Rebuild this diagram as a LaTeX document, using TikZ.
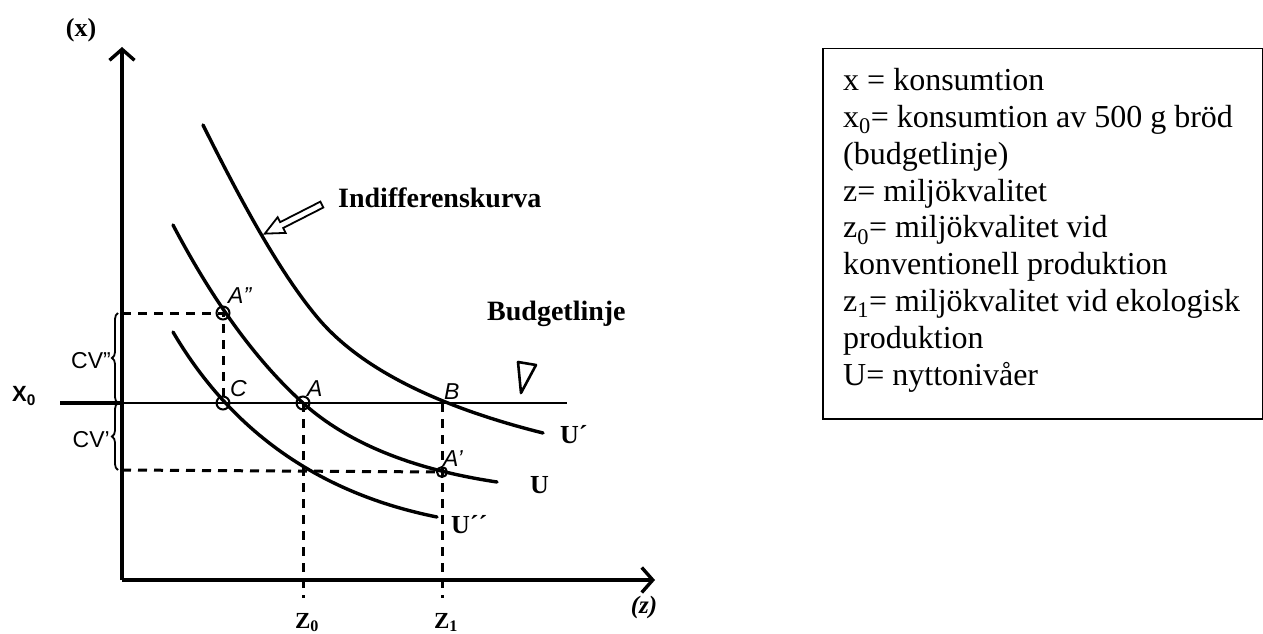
\documentclass[tikz,border=0pt]{standalone}
\usepackage{fontspec}
\setmainfont{Liberation Serif}
\newfontfamily\labelsans{Liberation Sans}
\usetikzlibrary{arrows.meta,decorations.pathreplacing,shapes.arrows}

\tikzset{
  axis/.style={line width=3.4pt, -{Straight Barb[length=11pt,width=25pt]}},
  icurve/.style={line width=3.4pt, line cap=round},
  helper/.style={line width=3pt, dash pattern=on 9pt off 7pt},
  punkt/.style={circle, draw, line width=2pt, minimum size=13pt, inner sep=0pt},
  ptlabel/.style={font=\labelsans\itshape\fontsize{23}{26}\selectfont, inner sep=0pt, anchor=base west},
  cvlabel/.style={font=\labelsans\fontsize{23}{26}\selectfont, inner sep=0pt, anchor=base east},
  ulabel/.style={font=\bfseries\fontsize{26}{30}\selectfont, inner sep=0pt, anchor=base west},
  titel/.style={font=\bfseries\fontsize{28}{32}\selectfont, inner sep=0pt, anchor=base west},
  cvbrace/.style={decorate, decoration={brace, amplitude=6pt}, line width=1.8pt},
}

\begin{document}
\begin{tikzpicture}[x=1pt,y=-1pt]
\useasboundingbox (0,0) rectangle (1263,634);

% axes
\coordinate (O) at (122,580);
\coordinate (ytop) at (122,47);
\coordinate (xend) at (655,580);
\draw[axis] (O) -- (ytop);
\draw[axis] (O) -- (xend);
\node[font=\bfseries\fontsize{26}{30}\selectfont] (xaxlabel) at (81,30) {(x)};
\node[font=\bfseries\itshape\fontsize{25}{30}\selectfont] (zaxlabel) at (644,607) {(z)};

% points
\coordinate (Ann) at (223,313);
\coordinate (C) at (223,403);
\coordinate (A) at (303,403);
\coordinate (B) at (442,403);
\coordinate (Ap) at (442,472);

% budget line
\coordinate (xleft) at (60,403);
\coordinate (xaxis) at (122,403);
\coordinate (xright) at (567,403);
\draw[line width=3.4pt] (xleft) -- (xaxis);
\draw[line width=2.3pt] (xaxis) -- (xright);
\node[font=\labelsans\bfseries\fontsize{22}{26}\selectfont] (xnoll) at (24,396) {X\textsubscript{0}};

% indifference curves
\draw[icurve] (203,125) .. controls (241,201) and (279,271.4) .. (317,317)
  .. controls (358.7,367.1) and (434.1,405.7) .. (543,433);
\draw[icurve] (173,225) .. controls (213.7,302.3) and (257,361.6) .. (A)
  .. controls (347.3,442.9) and (412,469.3) .. (497,482);
\draw[icurve] (173,332) .. controls (231.7,431.9) and (319.7,493.5) .. (437,517);

% dashed helper lines
\coordinate (cvtop) at (122,313);
\coordinate (cvbot) at (122,470);
\coordinate (zzero) at (303,598);
\coordinate (zone) at (442,598);
\draw[helper] (cvtop) -- (Ann) -- (C);
\draw[helper] (cvbot) -- (Ap);
\draw[helper] (A) -- (zzero);
\draw[helper] (B) -- (zone);

\node[punkt] (pAnn) at (Ann) {};
\node[punkt] (pC) at (C) {};
\node[punkt] (pA) at (A) {};
\node[punkt, minimum size=10pt] (pAp) at (Ap) {};

\node[ptlabel] (lAnn) at (228,303) {A”};
\node[ptlabel] (lC) at (230,396) {C};
\node[ptlabel] (lA) at (307,396) {A};
\node[ptlabel] (lB) at (444,399) {B};
\node[ptlabel] (lAp) at (443,466) {A’};

% braces
\coordinate (brtop) at (118,313);
\coordinate (brmid) at (118,403);
\coordinate (brbot) at (118,470);
\draw[cvbrace] (brmid) -- (brtop);
\draw[cvbrace] (brbot) -- (brmid);
\node[cvlabel] (cvtwo) at (111,368) {CV”};
\node[cvlabel] (cvone) at (110,447) {CV’};

% curve names
\node[ulabel] (uprim) at (560,443) {U´};
\node[ulabel] (u) at (530,493) {U};
\node[ulabel] (ubis) at (451,533) {U´´};
\node[font=\bfseries\fontsize{23}{26}\selectfont, anchor=base] (znoll) at (307,628) {Z\textsubscript{0}};
\node[font=\bfseries\fontsize{23}{26}\selectfont, anchor=base] (zett) at (446,628) {Z\textsubscript{1}};

% titles
\node[titel] (indif) at (338,207) {Indifferenskurva};
\node[titel] (budget) at (487,320) {Budgetlinje};
\node[single arrow, draw, fill=white, line width=1.8pt, inner sep=2.4pt,
      single arrow head extend=5.5pt, single arrow tip angle=50,
      minimum height=64pt, rotate=207] (kurvpil) at (296.5,217.5) {};
\draw[line width=2.6pt, line join=round] (518,362) -- (536,365) -- (521,393) -- cycle;

% legend box
\node[draw, line width=1.5pt, minimum width=440pt, minimum height=370pt,
      anchor=north west, inner sep=0pt] (legend) at (822,48) {};
\node[anchor=base west, align=left, inner sep=0pt,
      font=\fontsize{32}{36.8}\selectfont] (legtext) at (843,385)
  {x = konsumtion\\
   x\textsubscript{0}= konsumtion av 500 g bröd\\
   (budgetlinje)\\
   z= miljökvalitet\\
   z\textsubscript{0}= miljökvalitet vid\\
   konventionell produktion\\
   z\textsubscript{1}= miljökvalitet vid ekologisk\\
   produktion\\
   U= nyttonivåer};
\end{tikzpicture}
\end{document}
